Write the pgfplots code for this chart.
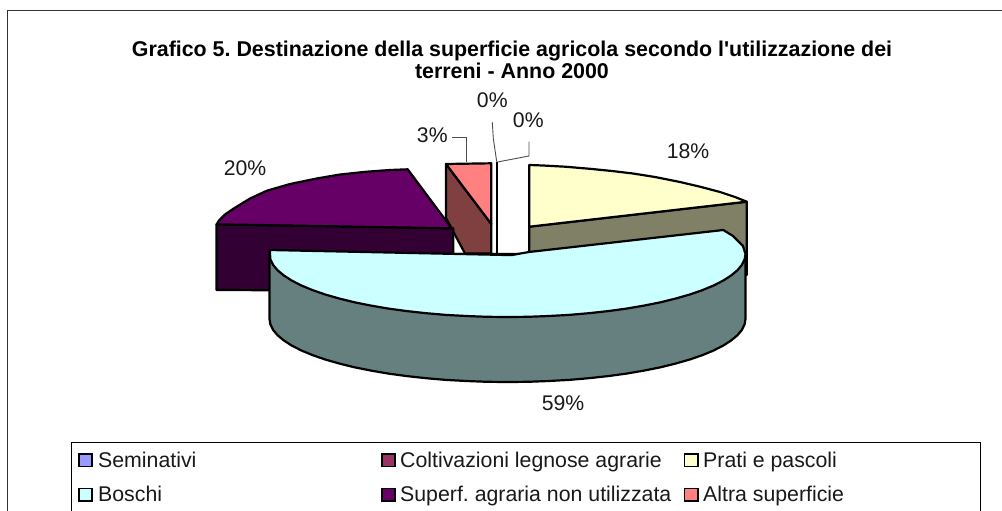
\documentclass[border=0pt]{standalone}
\usepackage{pgfplots}
\pgfplotsset{compat=1.18}
\usepackage{fontspec}
\setmainfont{Liberation Sans}
\newfontfamily\titlefont{Liberation Sans}
\definecolor{cyanT}{HTML}{CCFFFF}
\definecolor{cyanS}{HTML}{668080}
\definecolor{yelT}{HTML}{FFFFCC}
\definecolor{yelS}{HTML}{808066}
\definecolor{purT}{HTML}{660066}
\definecolor{purS}{HTML}{330033}
\definecolor{pinT}{HTML}{FF8080}
\definecolor{pinS}{HTML}{804040}
\definecolor{swA}{HTML}{9999FF}
\definecolor{swB}{HTML}{993366}
\tikzset{
  pie/.style={draw=black,line width=2.2bp,line join=round},
  lead/.style={draw=black!70,line width=0.9bp},
  lab/.style={font=\fontsize{21.2bp}{25bp}\selectfont,anchor=center,text=black!90,inner sep=0pt},
  leg/.style={font=\fontsize{21.3bp}{25bp}\selectfont\frenchspacing,anchor=base west,text=black!90,inner sep=0pt},
  sw/.style={draw=black,line width=1.8bp,line join=miter},
}
\begin{document}
\begin{tikzpicture}
\path[use as bounding box] (0,0) rectangle (1002bp,511bp);
\begin{axis}[
  at={(0,0)},anchor=south west,
  scale only axis,width=1002bp,height=511bp,
  xmin=0,xmax=1002,ymin=0,ymax=511,y dir=reverse,
  hide axis,clip=false,
]
% frame
\addplot[draw=black!80,line width=1bp] coordinates {(7.3,511)(7.3,11)(1002,11)};
% legend box
\addplot[draw=black,line width=0.9bp] coordinates {(71.8,511)(71.8,442.3)(980.3,442.3)(980.3,511)};
% yellow slice
\addplot[pie,fill=yelS] coordinates {(529.3,226.7)(746.7,201.7)(746.7,275)(529.3,275)} -- cycle;
\addplot[pie,fill=yelT] coordinates {(529.3,165)(543,165.5)(565,166.7)(590,168.8)(612,171)(633,173.5)(655,177)(680,182)(700,186.7)(720,192)(735,197)(746.7,201.7)(529.3,226.7)} -- cycle;
% brown and pink slice
\addplot[pie,fill=pinS] coordinates {(446,164)(446,218)(465,253.5)(491.3,253.5)(491.3,224)} -- cycle;
\addplot[pie,fill=pinT] coordinates {(446,164)(491.3,163.3)(491.3,224)} -- cycle;
% hair slice
\addplot[draw=black,line width=2.2bp] coordinates {(497.3,162)(497.3,254)};
% purple slice
\addplot[pie,fill=purS] coordinates {(216.5,224.3)(453.3,228.3)(453.3,291)(216.5,290)} -- cycle;
\addplot[pie,fill=purT] coordinates {(216.7,224.3)(219,220.5)(225,214.5)(233,209)(250,198.5)(266.7,190.8)(290,184)(316.7,178.5)(340,174.5)(366.7,171.7)(390,170)(407.7,169.3)(451.7,228.3)} -- cycle;
% cyan slice wall
\addplot[pie,fill=cyanS] coordinates {(745.5,254)(745.5,319)(744.6,324.5)(741.9,329.9)(737.4,335.3)(731.1,340.5)(723.2,345.6)(713.6,350.5)(702.5,355.1)(689.8,359.5)(675.8,363.5)(660.5,367.3)(644,370.6)(626.5,373.6)(608.1,376.1)(588.9,378.2)(569.1,379.9)(548.8,381)(528.2,381.8)(507.5,382)(486.8,381.8)(466.2,381)(445.9,379.9)(426.1,378.2)(406.9,376.1)(388.5,373.6)(371,370.6)(354.5,367.3)(339.2,363.5)(325.2,359.5)(312.5,355.1)(301.4,350.5)(291.8,345.6)(283.9,340.5)(277.6,335.3)(273.1,329.9)(270.4,324.5)(269.5,319)(269.5,254)} -- cycle;
% cyan slice top
\addplot[pie,fill=cyanT] coordinates {(269.8,250)(506.7,255)(512,255)(529,252)(723.3,230)(733,236)(743,246)(745.5,254)(744.6,259.5)(741.9,264.9)(737.4,270.3)(731.1,275.5)(723.2,280.6)(713.6,285.5)(702.5,290.1)(689.8,294.5)(675.8,298.5)(660.5,302.3)(644,305.6)(626.5,308.6)(608.1,311.1)(588.9,313.2)(569.1,314.9)(548.8,316)(528.2,316.8)(507.5,317)(486.8,316.8)(466.2,316)(445.9,314.9)(426.1,313.2)(406.9,311.1)(388.5,308.6)(371,305.6)(354.5,302.3)(339.2,298.5)(325.2,294.5)(312.5,290.1)(301.4,285.5)(291.8,280.6)(283.9,275.5)(277.6,270.3)(273.1,264.9)(270.4,259.5)} -- cycle;
% leader lines
\addplot[lead] coordinates {(451.7,137.3)(466,137.3)(466,161.7)};
\addplot[lead] coordinates {(492.3,122.3)(493.3,138.3)(496.7,161.7)};
\addplot[lead] coordinates {(497.5,162)(529,156)(529,141.7)};
% legend swatches
\addplot[sw,fill=swA] coordinates {(78.8,454)(92,454)(92,466.5)(78.8,466.5)} -- cycle;
\addplot[sw,fill=swB] coordinates {(381.8,454)(395,454)(395,466.5)(381.8,466.5)} -- cycle;
\addplot[sw,fill=yelT] coordinates {(684.5,454)(697.7,454)(697.7,466.5)(684.5,466.5)} -- cycle;
\addplot[sw,fill=cyanT] coordinates {(78.8,488.5)(92,488.5)(92,501)(78.8,501)} -- cycle;
\addplot[sw,fill=purT] coordinates {(381.8,488.5)(395,488.5)(395,501)(381.8,501)} -- cycle;
\addplot[sw,fill=pinT] coordinates {(684.5,488.5)(697.7,488.5)(697.7,501)(684.5,501)} -- cycle;
% texts
\node[font=\titlefont\fontsize{21.4bp}{22.5bp}\selectfont\bfseries\frenchspacing,align=center,anchor=center,inner sep=0pt] at (axis cs:512,60) {Grafico 5. Destinazione della superficie agricola secondo l'utilizzazione dei\\terreni - Anno 2000};
\node[lab] at (axis cs:492.3,100) {0\%};
\node[lab] at (axis cs:528.3,120) {0\%};
\node[lab] at (axis cs:432.3,135) {3\%};
\node[lab] at (axis cs:245,168) {20\%};
\node[lab] at (axis cs:688,151) {18\%};
\node[lab] at (axis cs:563,403) {59\%};
\node[leg] at (axis cs:98,467) {Seminativi};
\node[leg] at (axis cs:400,467) {Coltivazioni legnose agrarie};
\node[leg] at (axis cs:703,467) {Prati e pascoli};
\node[leg] at (axis cs:98,501) {Boschi};
\node[leg] at (axis cs:400,501) {Superf. agraria non utilizzata};
\node[leg] at (axis cs:703,501) {Altra superficie};
\end{axis}
\end{tikzpicture}
\end{document}
